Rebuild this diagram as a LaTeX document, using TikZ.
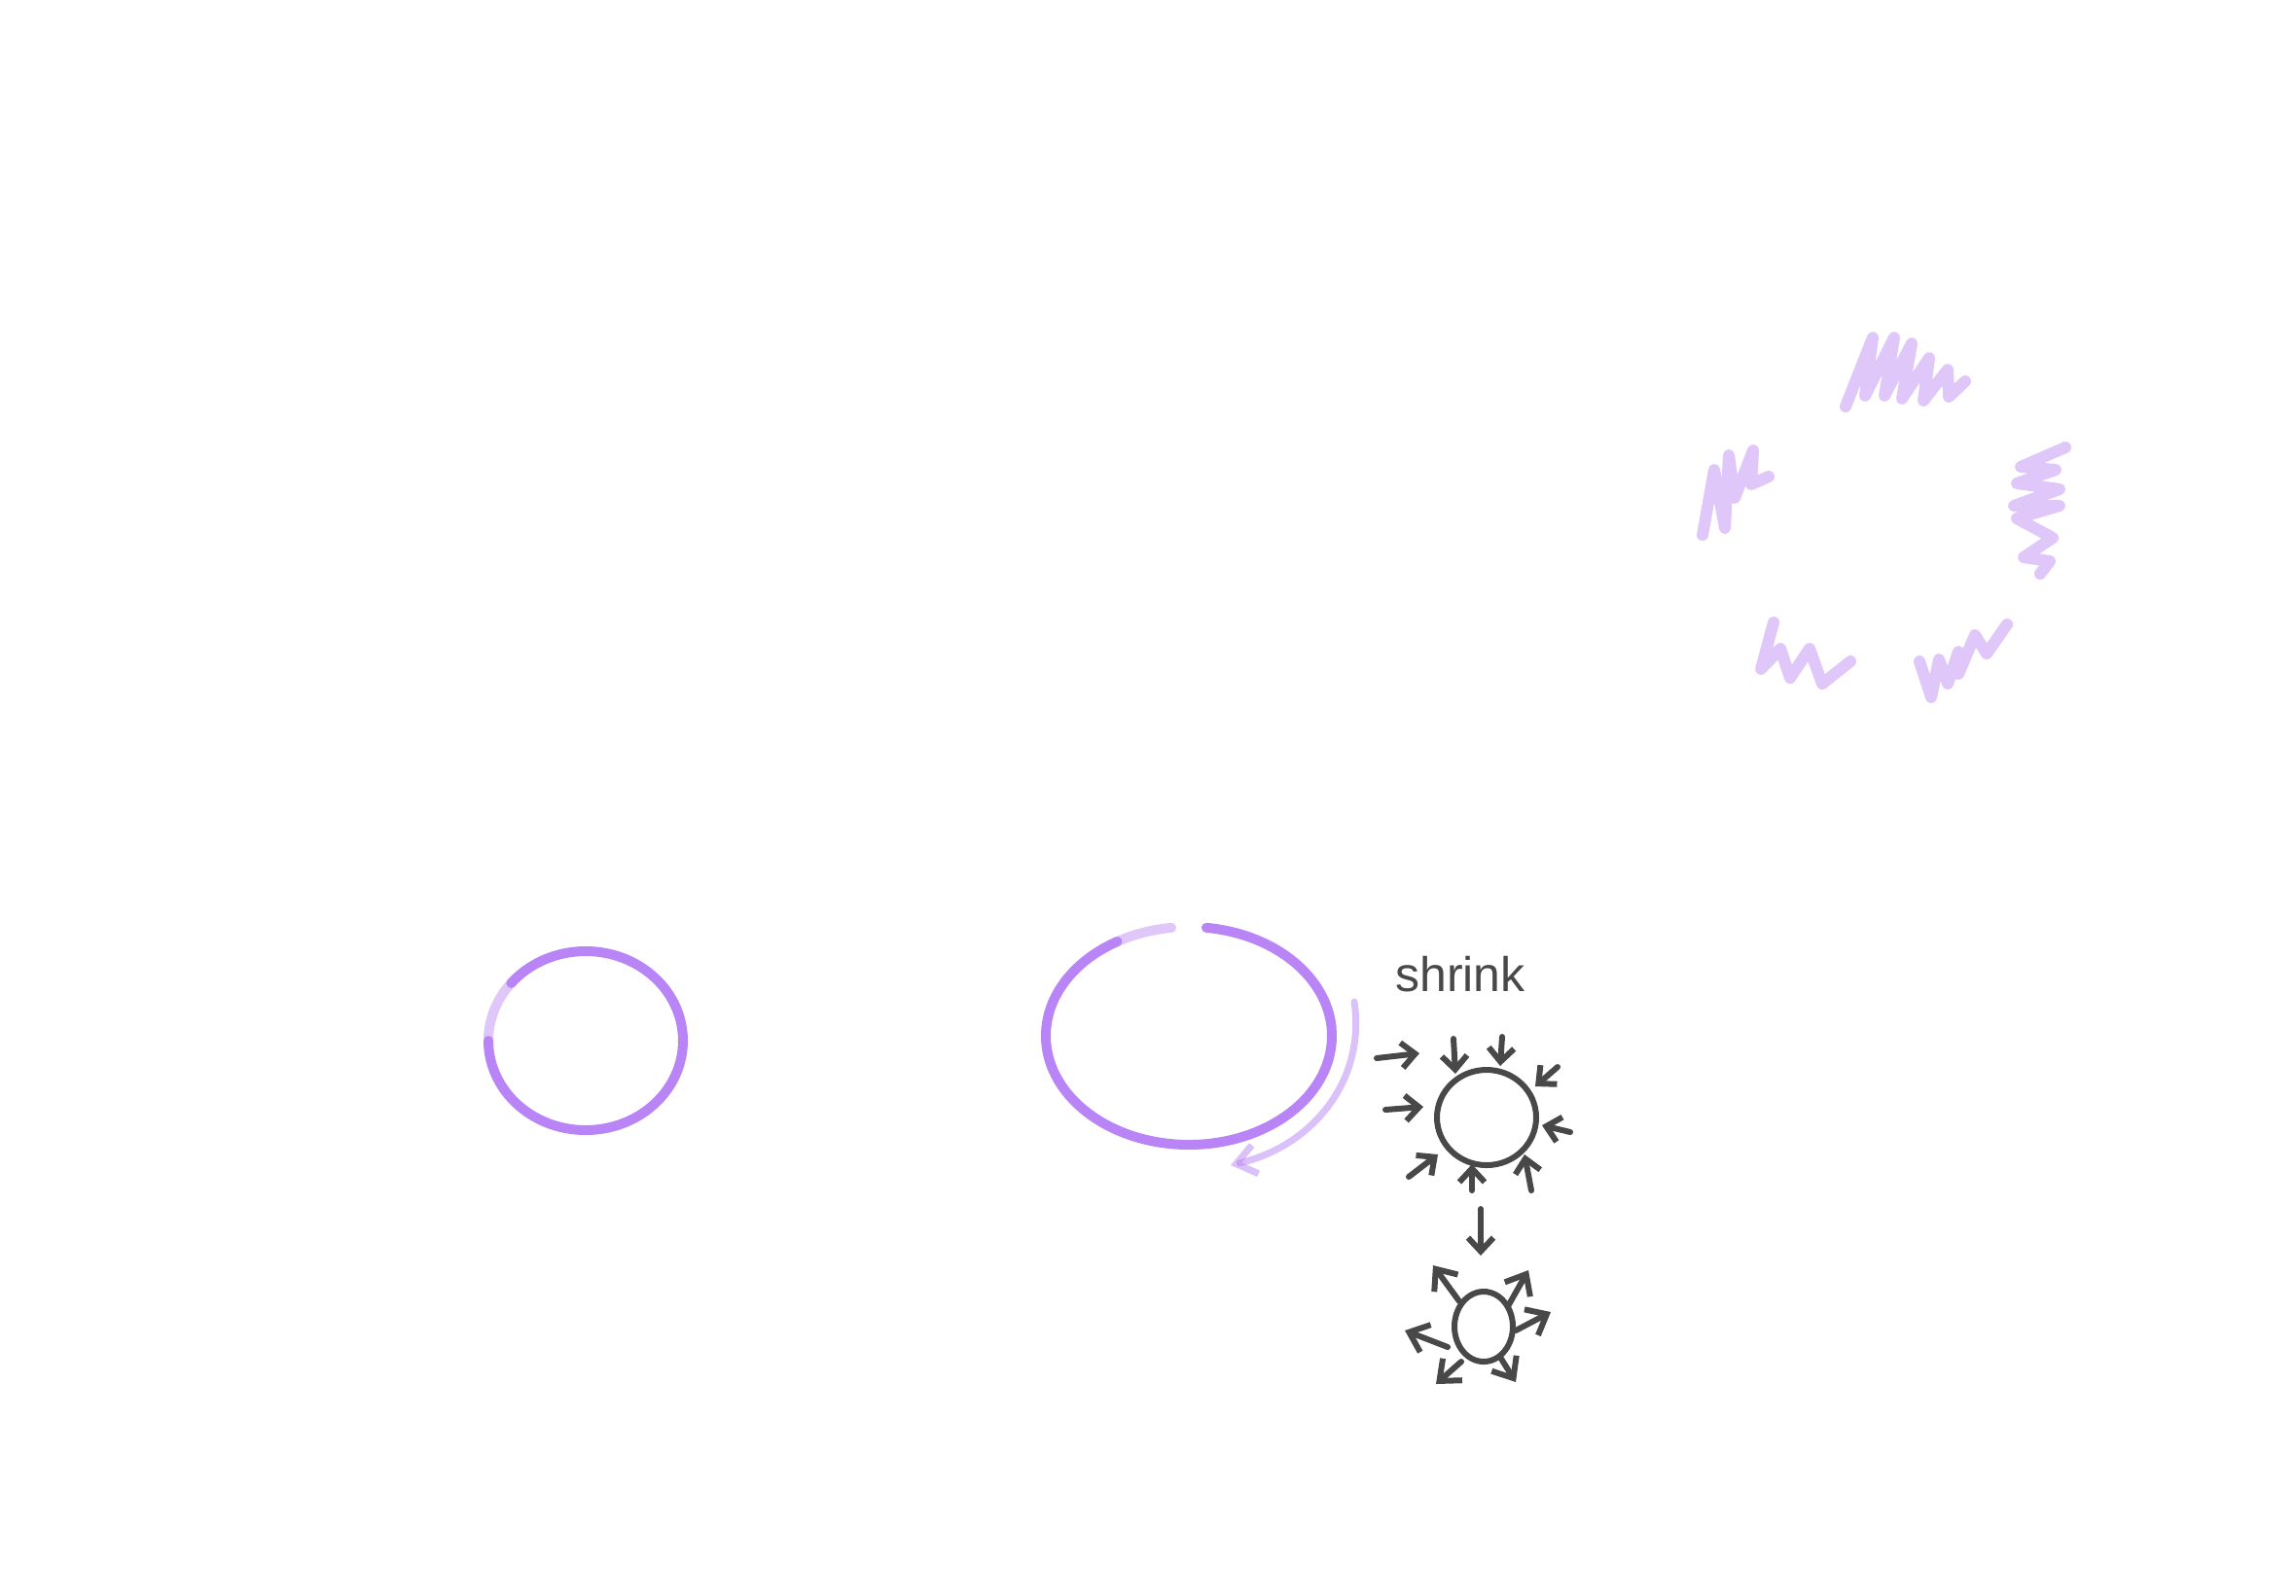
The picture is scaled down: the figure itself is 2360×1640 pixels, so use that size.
\documentclass[tikz,border=0pt]{standalone}
\usepackage{fontspec}
\setsansfont{Liberation Sans}
\usetikzlibrary{arrows.meta}
\definecolor{lilac}{RGB}{185,132,245}
\definecolor{pencil}{RGB}{72,72,72}
\tikzset{
  crayon/.style={draw=lilac, line width=5pt, line cap=round, line join=round},
  scribble/.style={draw=lilac, line width=6pt, line cap=round, line join=round, opacity=0.45},
  graphite/.style={draw=pencil, line width=3pt, line cap=round, line join=round},
  inarrow/.style={graphite, -{Straight Barb[length=7pt,width=13pt,line width=3pt]}},
  outarrow/.style={graphite, -{Straight Barb[length=9pt,width=15pt,line width=3pt]}}
}
\begin{document}
\begin{tikzpicture}[x=0.5pt,y=-0.5pt]
\useasboundingbox[fill=white] (0,0) rectangle (2360,1640);

% small circle
\coordinate (sc) at (602,1070);
\draw[crayon] ([shift={(220:100 and 92)}]sc) arc[start angle=220,end angle=540,x radius=100,y radius=92];
\draw[crayon,opacity=0.45] ([shift={(180:100 and 92)}]sc) arc[start angle=180,end angle=220,x radius=100,y radius=92];

% big ellipse with arrow
\coordinate (bc) at (1222,1065);
\draw[crayon] ([shift={(-83:147 and 112)}]bc) arc[start angle=-83,end angle=240,x radius=147,y radius=112];
\draw[crayon,opacity=0.45] ([shift={(240:147 and 112)}]bc) arc[start angle=240,end angle=263,x radius=147,y radius=112];
\draw[crayon,line width=3pt] ([shift={(-55:147 and 112)}]bc) arc[start angle=-55,end angle=45,x radius=149,y radius=113];
\coordinate (rs) at (1392,1030);
\coordinate (re) at (1265,1198);
\draw[crayon,line width=3.5pt,opacity=0.5,-{Straight Barb[length=10pt,width=15pt,line width=3.5pt]}]
  (rs) .. controls (1404,1110) and (1350,1178) .. (re);

% shrink label
\node[text=pencil, font=\sffamily\fontsize{25}{25}\selectfont, anchor=center] (lbl) at (1501,1002) {shrink};

% shrinking circle
\coordinate (c1) at (1528,1149);
\draw[graphite] (c1) ellipse[x radius=51,y radius=49];
\draw[inarrow] (1415,1088) -- (1459,1083);
\draw[inarrow] (1494,1068) -- (1496,1104);
\draw[inarrow] (1544,1066) -- (1542,1096);
\draw[inarrow] (1601,1097) -- (1578,1117);
\draw[inarrow] (1424,1141) -- (1463,1138);
\draw[inarrow] (1614,1164) -- (1585,1157);
\draw[inarrow] (1448,1210) -- (1478,1187);
\draw[inarrow] (1513,1224) -- (1513,1197);
\draw[inarrow] (1574,1224) -- (1567,1187);

% transition arrow
\coordinate (t1) at (1522,1243);
\coordinate (t2) at (1522,1291);
\draw[inarrow] (t1) -- (t2);

% expanding circle
\coordinate (c2) at (1525,1364);
\draw[graphite] (c2) ellipse[x radius=30,y radius=36];
\draw[outarrow] (1500,1338) -- (1473,1301);
\draw[outarrow] (1550,1343) -- (1571,1306);
\draw[outarrow] (1558,1368) -- (1594,1349);
\draw[outarrow] (1488,1385) -- (1444,1368);
\draw[outarrow] (1502,1400) -- (1476,1423);
\draw[outarrow] (1543,1397) -- (1558,1421);

% scribble ring
\draw[scribble] (1897,418) -- (1925,347) -- (1917,407) -- (1947,347) -- (1937,407) -- (1965,353) -- (1955,410) -- (1983,368) -- (1977,412) -- (2002,380) -- (2003,408) -- (2020,392);
\draw[scribble] (2123,460) -- (2077,480) -- (2113,483) -- (2073,497) -- (2117,503) -- (2070,520) -- (2117,520) -- (2073,533) -- (2110,553) -- (2080,573) -- (2107,577) -- (2097,590);
\draw[scribble] (1973,680) -- (1985,717) -- (1993,678) -- (2002,703) -- (2013,670) -- (2013,693) -- (2030,653) -- (2042,672) -- (2063,642);
\draw[scribble] (1823,640) -- (1810,688) -- (1830,667) -- (1840,697) -- (1860,667) -- (1873,703) -- (1902,680);
\draw[scribble] (1750,550) -- (1762,483) -- (1773,543) -- (1777,468) -- (1783,512) -- (1802,463) -- (1800,498) -- (1818,490);
\end{tikzpicture}
\end{document}
